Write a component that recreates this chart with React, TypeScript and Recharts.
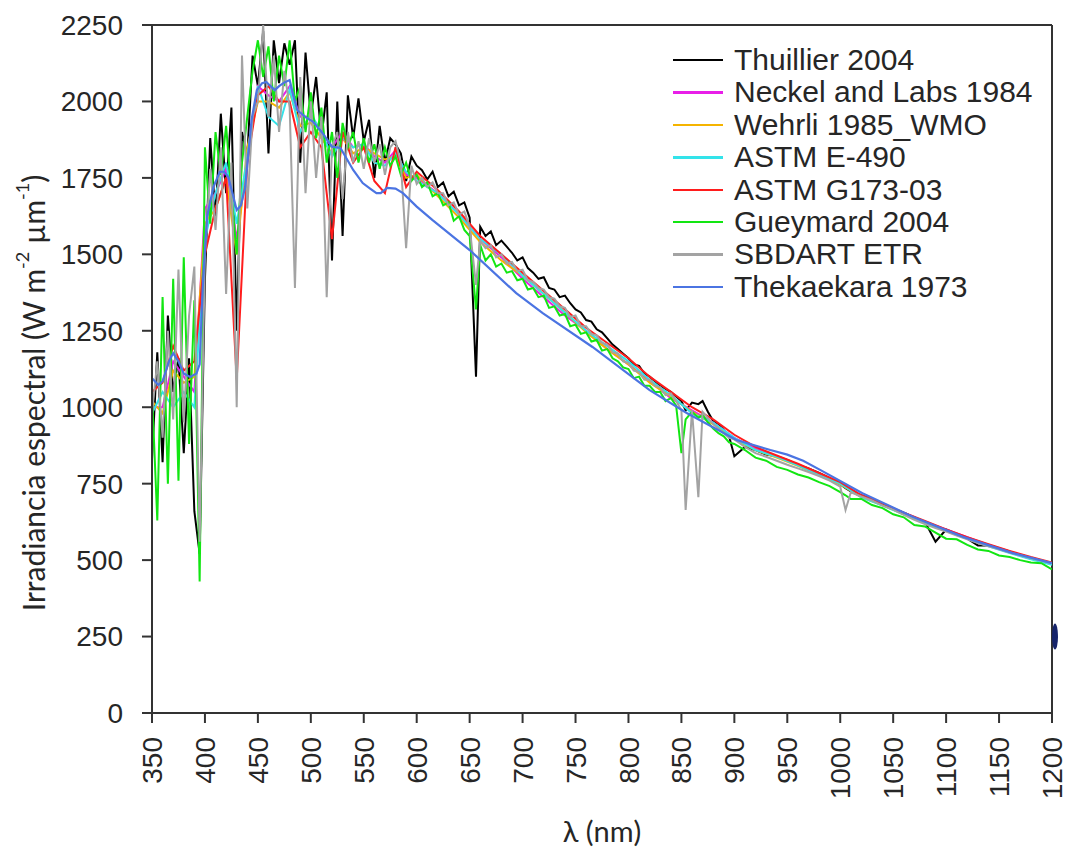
import React from 'react';
import { LineChart, Line, XAxis, YAxis, ReferenceLine, ReferenceDot, Legend, Label } from 'recharts';

// ---------- axis ticks ----------
const xTicks = [350, 400, 450, 500, 550, 600, 650, 700, 750, 800, 850, 900, 950, 1000, 1050, 1100, 1150, 1200];
const yTicks = [0, 250, 500, 750, 1000, 1250, 1500, 1750, 2000, 2250];

// ---------- series names / colours ----------
const seriesNames = [
  'Thuillier 2004',
  'Neckel and Labs 1984',
  'Wehrli 1985_WMO',
  'ASTM E-490',
  'ASTM G173-03',
  'Gueymard 2004',
  'SBDART ETR',
  'Thekaekara 1973',
];
const seriesColors = ['#000000', '#e81fe8', '#f5b400', '#33e3ea', '#ff1c1c', '#12e612', '#a3a3a3', '#4b74e2'];

// ---------- wavelength grids (nm) ----------
const fineWl = [
  350, 355, 360, 365, 370, 375, 380, 385, 390, 395,
  400, 405, 410, 415, 420, 425, 430, 435, 440, 445,
  450, 455, 460, 465, 470, 475, 480, 485, 490, 495,
  500, 505, 510, 515, 520, 525, 530, 535, 540, 545,
  550, 555, 560, 565, 570, 575, 580, 585, 590, 595,
  600, 605, 610, 615, 620, 625, 630, 635, 640, 645,
  650, 656, 660, 665, 670, 675, 680, 685, 690, 695,
  700, 705, 710, 715, 720, 725, 730, 735, 740, 745,
  750, 755, 760, 765, 770, 775, 780, 785, 790, 795,
  800, 805, 810, 815, 820, 825, 830, 835, 840, 845,
  850, 854, 860, 866, 870, 875, 880, 885, 890, 895,
  900,
  910, 920, 930, 940, 950, 960, 970, 980, 990, 1000,
  1005, 1010, 1020, 1030, 1040, 1050, 1060, 1070, 1080, 1090,
  1100, 1110, 1120, 1130, 1140, 1150, 1160, 1170, 1180, 1190,
  1200,
];

const coarseWl = [
  350, 360, 370, 380, 390, 400, 410, 420, 430, 440,
  450, 460, 470, 480, 490, 500, 510, 520, 530, 540,
  550, 560, 570, 580, 590, 600, 620, 640, 660, 680,
  700, 720, 740, 760, 780, 800, 820, 840, 860, 880,
  900, 920, 940, 960, 980, 1000, 1020, 1040, 1060, 1080,
  1100, 1120, 1140, 1160, 1180, 1200,
];

const thekaekaraWl = [
  350, 356, 360, 366, 370, 375, 380, 386, 392, 395,
  398, 402, 408, 414, 418, 422, 426, 430, 434, 438,
  444, 449, 454, 458, 462, 466, 470, 474, 480, 487,
  496, 502, 511, 520, 528, 540, 549, 556, 562, 566,
  572, 580, 587, 600, 615, 650, 694, 719, 766, 820,
  855, 902, 934, 950, 965, 981, 1021, 1069, 1116, 1163,
  1200,
];

// ---------- irradiance values (W m-2 um-1) ----------
const thuillier = [
  830, 1180, 820, 1300, 1050, 1160, 850, 1160, 660, 520,
  1420, 1880, 1620, 1960, 1700, 1980, 1250, 1900, 1820, 2150,
  2050, 2230, 1830, 2200, 2060, 2190, 2120, 2200, 1800, 2160,
  1950, 2080, 1880, 2030, 1480, 2000, 1560, 2020, 1880, 2010,
  1870, 1940, 1750, 1920, 1800, 1880, 1860, 1830, 1740, 1820,
  1790, 1775, 1745, 1770, 1720, 1735, 1690, 1705, 1660, 1670,
  1620, 1100, 1590, 1560, 1575, 1530, 1545, 1525, 1505, 1480,
  1490, 1455, 1440, 1420, 1425, 1390, 1385, 1360, 1365, 1340,
  1320, 1310, 1285, 1280, 1255, 1245, 1225, 1205, 1190, 1175,
  1160, 1140, 1135, 1110, 1100, 1085, 1070, 1060, 1050, 1035,
  1020, 990, 1015, 1010, 1020, 985, 955, 945, 925, 905,
  840,
  870, 860, 845, 840, 828, 812, 800, 785, 768, 748,
  735, 725, 712, 700, 685, 668, 655, 640, 625, 560,
  600, 585, 570, 548, 548, 538, 528, 515, 505, 497,
  488,
];

const gueymard = [
  1050, 630, 1360, 750, 1420, 760, 1490, 880, 1350, 430,
  1850, 1600, 1900, 1760, 1920, 1700, 1500, 1800, 1950, 2100,
  2200, 2080, 2180, 2000, 2150, 2050, 2200, 2000, 2050, 1900,
  2030, 1880, 1980, 1800, 1900, 1750, 1930, 1850, 1900, 1800,
  1880, 1800, 1860, 1780, 1850, 1790, 1820, 1760, 1800, 1740,
  1760, 1720, 1735, 1690, 1700, 1660, 1670, 1610, 1625, 1580,
  1560, 1320, 1530, 1480, 1500, 1460, 1470, 1440, 1445, 1415,
  1420, 1385, 1390, 1360, 1365, 1325, 1330, 1300, 1305, 1265,
  1270, 1240, 1245, 1215, 1220, 1185, 1190, 1160, 1150, 1130,
  1125, 1095, 1100, 1070, 1070, 1050, 1050, 1020, 1030, 1005,
  850, 960, 985, 965, 975, 950, 930, 915, 905, 885,
  880,
  860, 835, 825, 805, 795, 780, 770, 755, 742, 722,
  712, 700, 700, 680, 670, 650, 640, 615, 610, 590,
  570, 568, 550, 535, 530, 515, 510, 500, 492, 490,
  470,
];

const sbdart = [
  980, 1150, 900, 1250, 960, 1450, 950, 1300, 1460, 560,
  1500, 1780, 1580, 1850, 1370, 1800, 1000, 2150, 1650, 1950,
  2000, 2250, 1950, 2150, 1900, 2100, 1980, 1390, 2080, 1700,
  2000, 1750, 1950, 1360, 1850, 1900, 1680, 1900, 1800, 1870,
  1780, 1880, 1800, 1860, 1760, 1850, 1870, 1800, 1520, 1790,
  1730, 1750, 1720, 1735, 1700, 1700, 1660, 1670, 1630, 1640,
  1590, 1400, 1545, 1520, 1530, 1490, 1500, 1470, 1475, 1445,
  1450, 1415, 1410, 1390, 1385, 1360, 1355, 1330, 1325, 1295,
  1300, 1265, 1265, 1240, 1235, 1210, 1205, 1180, 1175, 1150,
  1145, 1120, 1115, 1090, 1090, 1070, 1065, 1040, 1045, 1020,
  990, 664, 990, 706, 985, 965, 945, 930, 915, 900,
  895,
  870, 850, 838, 825, 812, 800, 788, 775, 760, 740,
  664, 722, 708, 695, 678, 665, 648, 632, 618, 605,
  593, 580, 568, 556, 545, 535, 525, 516, 506, 498,
  490,
];

const neckel = [
  1000, 1000, 1150, 1100, 1050, 1650, 1700, 1780, 1550, 1800,
  2050, 2020, 2000, 2050, 1950, 1950, 1900, 1850, 1900, 1850,
  1860, 1820, 1800, 1840, 1760, 1750, 1700, 1630, 1550, 1490,
  1420, 1360, 1300, 1250, 1190, 1140, 1085, 1030, 990, 950,
  900, 865, 840, 812, 782, 752, 710, 680, 655, 625,
  600, 575, 550, 528, 508, 490,
];

const wehrli = [
  1020, 980, 1120, 1080, 1100, 1600, 1650, 1750, 1500, 1850,
  2000, 2000, 1980, 2030, 1920, 1930, 1880, 1830, 1880, 1830,
  1850, 1830, 1810, 1820, 1750, 1760, 1690, 1620, 1540, 1480,
  1430, 1370, 1310, 1245, 1190, 1140, 1080, 1035, 985, 945,
  895, 860, 835, 808, 778, 748, 705, 680, 650, 622,
  598, 572, 548, 525, 505, 488,
];

const astmE490 = [
  980, 1050, 1000, 1050, 1000, 1550, 1700, 1800, 1600, 1820,
  2050, 1950, 1920, 2040, 1900, 1960, 1900, 1820, 1880, 1850,
  1860, 1800, 1790, 1830, 1770, 1740, 1700, 1630, 1550, 1500,
  1430, 1370, 1310, 1250, 1200, 1150, 1090, 1040, 980, 950,
  900, 860, 838, 810, 780, 750, 705, 678, 650, 620,
  595, 570, 545, 523, 503, 485,
];

const astmG173 = [
  1050, 1080, 1200, 1120, 1150, 1500, 1650, 1750, 1090, 1800,
  2020, 2050, 2000, 2000, 1850, 1900, 1850, 1550, 1900, 1800,
  1850, 1740, 1700, 1850, 1720, 1770, 1710, 1640, 1560, 1500,
  1440, 1380, 1320, 1260, 1210, 1160, 1100, 1050, 1000, 960,
  910, 870, 842, 815, 785, 755, 712, 685, 655, 628,
  600, 575, 552, 530, 510, 492,
];

const thekaekara = [
  1095, 1073, 1085, 1150, 1177, 1150, 1110, 1099, 1110, 1140,
  1400, 1623, 1720, 1770, 1770, 1754, 1700, 1645, 1660, 1720,
  1939, 2037, 2060, 2064, 2050, 2037, 2050, 2060, 2070, 1972,
  1946, 1934, 1897, 1852, 1848, 1776, 1733, 1715, 1700, 1700,
  1717, 1715, 1700, 1656, 1612, 1514, 1373, 1308, 1197, 1056,
  981, 893, 860, 845, 825, 795, 719, 641, 576, 523,
  490,
];

// artefact mark on the right frame of the original figure
const edgeMark = { wl: 1200, value: 250 };

const toPoints = (wl: number[], vals: number[]) => wl.map((w, i) => ({ wl: w, v: vals[i] }));

const series = [
  { data: toPoints(fineWl, thuillier) },
  { data: toPoints(coarseWl, neckel) },
  { data: toPoints(coarseWl, wehrli) },
  { data: toPoints(coarseWl, astmE490) },
  { data: toPoints(coarseWl, astmG173) },
  { data: toPoints(fineWl, gueymard) },
  { data: toPoints(fineWl, sbdart) },
  { data: toPoints(thekaekaraWl, thekaekara) },
];

const TEXT = '#262626';
const AX = '#333333';
const ARIAL = '"Liberation Sans", Arial, sans-serif';
const HUMAN = 'Lato, "Open Sans", sans-serif';

const XTick = (props: any) => {
  const { x, y, payload } = props;
  return (
    <text
      x={x}
      y={y}
      transform={`rotate(-90 ${x} ${y})`}
      textAnchor="end"
      dy="0.36em"
      fontFamily={ARIAL}
      fontSize={28}
      fill={TEXT}
    >
      {payload.value}
    </text>
  );
};

const XLabelContent = (props: any) => {
  const vb = props.viewBox || { x: 152, y: 713, width: 900, height: 140 };
  const cx = vb.x + vb.width / 2;
  const cy = vb.y + vb.height - 11;
  return (
    <text x={cx} y={cy} textAnchor="middle" fontFamily={HUMAN} fontSize={29} fill={TEXT}>
      λ (nm)
    </text>
  );
};

const YLabelContent = (props: any) => {
  const vb = props.viewBox || { x: 0, y: 25, width: 152, height: 688 };
  const cx = vb.x + 33;
  const cy = vb.y + vb.height / 2 + 24;
  return (
    <text
      x={cx}
      y={cy}
      transform={`rotate(-90 ${cx} ${cy})`}
      textAnchor="middle"
      dominantBaseline="central"
      fontFamily={HUMAN}
      fontSize={30}
      fill={TEXT}
    >
      Irradiancia espectral (W m
      <tspan baselineShift="super" fontSize={18}>-2</tspan>
      <tspan> µm</tspan>
      <tspan baselineShift="super" fontSize={18}>-1</tspan>
      <tspan>)</tspan>
    </text>
  );
};

const renderLegend = () => (
  <div style={{ fontFamily: ARIAL, fontSize: 30, color: TEXT, lineHeight: '32.4px' }}>
    {seriesNames.map((name, i) => (
      <div key={name} style={{ display: 'flex', alignItems: 'center', height: 32.4, whiteSpace: 'nowrap' }}>
        <span style={{ display: 'inline-block', width: 50, height: 2.5, background: seriesColors[i], marginRight: 11 }} />
        <span>{name}</span>
      </div>
    ))}
  </div>
);

export default function App() {
  return (
    <div style={{ position: 'absolute', left: 0, top: 0, width: 1068, height: 853, background: '#ffffff' }}>
      <LineChart width={1068} height={853} margin={{ top: 25, right: 16, bottom: 0, left: 0 }}>
        <XAxis
          type="number"
          dataKey="wl"
          domain={[350, 1200]}
          ticks={xTicks}
          interval={0}
          height={140}
          tickSize={10}
          tickMargin={14}
          tick={<XTick />}
          axisLine={{ stroke: AX, strokeWidth: 2 }}
          tickLine={{ stroke: AX, strokeWidth: 2 }}
          allowDataOverflow
        >
          <Label content={<XLabelContent />} />
        </XAxis>
        <YAxis
          type="number"
          domain={[0, 2250]}
          ticks={yTicks}
          interval={0}
          width={152}
          tickSize={10}
          tickMargin={19}
          tick={{ fontFamily: ARIAL, fontSize: 28, fill: TEXT }}
          axisLine={{ stroke: AX, strokeWidth: 2 }}
          tickLine={{ stroke: AX, strokeWidth: 2 }}
          allowDataOverflow
        >
          <Label content={<YLabelContent />} />
        </YAxis>
        <ReferenceLine y={2250} stroke={AX} strokeWidth={2} />
        <ReferenceLine x={1200} stroke={AX} strokeWidth={2} />
        {series.map((s, i) => (
          <Line
            key={seriesNames[i]}
            name={seriesNames[i]}
            data={s.data}
            dataKey="v"
            type="linear"
            stroke={seriesColors[i]}
            strokeWidth={i === 7 ? 2.2 : 2}
            dot={false}
            activeDot={false}
            isAnimationActive={false}
          />
        ))}
        <ReferenceDot
          x={edgeMark.wl}
          y={edgeMark.value}
          ifOverflow="visible"
          shape={(p: any) => <ellipse cx={p.cx + 3} cy={p.cy} rx={3} ry={13} fill="#16246a" />}
        />
        <Legend
          layout="vertical"
          align="center"
          verticalAlign="middle"
          wrapperStyle={{ left: 673, top: 44, width: 380 }}
          content={renderLegend}
        />
      </LineChart>
    </div>
  );
}
